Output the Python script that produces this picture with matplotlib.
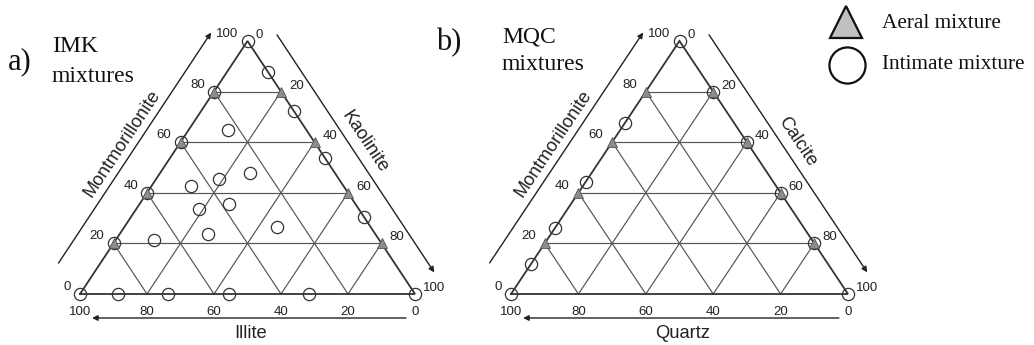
import numpy as np
import matplotlib
matplotlib.use("Agg")
import matplotlib.pyplot as plt

# ---------------- data (percent) ----------------
grid_ticks = [0, 20, 40, 60, 80, 100]

# Panel a: IMK mixtures  (M = Montmorillonite, K = Kaolinite, Illite = rest)
imk_aeral_M = [80, 60, 40, 20, 80, 60, 40, 20]
imk_aeral_K = [0, 0, 0, 0, 20, 40, 60, 80]
imk_int_M = [100, 0, 0,
             80, 60, 40, 20,
             87.9, 72.5, 53.6, 30.6,
             0, 0, 0, 0,
             64.8, 47.9, 45.3, 42.8, 35.6, 33.6, 23.6, 21.3, 26.6]
imk_int_K = [0, 0, 100,
             0, 0, 0, 0,
             12.1, 27.5, 46.4, 69.4,
             11.3, 26.3, 44.5, 68.5,
             11.9, 26.8, 18.8, 11.7, 26.7, 18.8, 26.5, 11.5, 45.4]

# Panel b: MQC mixtures  (M = Montmorillonite, C = Calcite, Quartz = rest)
mqc_aeral_M = [80, 60, 40, 20, 80, 60, 40, 20]
mqc_aeral_C = [0, 0, 0, 0, 20, 40, 60, 80]
mqc_int_M = [100, 0, 0, 67.7, 44.4, 26.2, 11.7, 80, 60, 40, 20]
mqc_int_C = [0, 0, 100, 0, 0, 0, 0, 20, 40, 60, 80]

legend_labels = ["Aeral mixture", "Intimate mixture"]

# ---------------- figure ----------------
W, H = 1034, 345
fig = plt.figure(figsize=(W / 100, H / 100), dpi=100)
ax = fig.add_axes([0, 0, 1, 1])
ax.set_xlim(0, W)
ax.set_ylim(H, 0)
ax.axis("off")

SANS = ["Liberation Sans", "DejaVu Sans"]
SERIF = ["Liberation Serif", "DejaVu Serif"]
TRI_FACE = "#8c8c8c"
EDGE = "#333333"
GRID = "#555555"


def panel(x0, x1, yb, yt, left_name, right_name, bottom_name,
          aer_M, aer_R, int_M, int_R):
    xa = (x0 + x1) / 2

    def tern(M, R):
        M = np.asarray(M, float)
        R = np.asarray(R, float)
        return x0 + (x1 - x0) * (R + M / 2) / 100, yb + (yt - yb) * M / 100

    BL = np.array([x0, yb]); BR = np.array([x1, yb]); A = np.array([xa, yt])

    # grid
    for v in grid_ticks[1:-1]:
        for (m1, r1, m2, r2) in [(v, 0, v, 100 - v), (0, v, 100 - v, v), (0, 100 - v, 100 - v, 0)]:
            xs, ys = tern([m1, m2], [r1, r2])
            ax.plot(xs, ys, color=GRID, lw=0.85, zorder=1)
    # outline
    ax.plot([BL[0], BR[0], A[0], BL[0]], [BL[1], BR[1], A[1], BL[1]],
            color=EDGE, lw=1.3, zorder=2, solid_joinstyle="miter")

    # tick labels
    for v in grid_ticks:
        px, py = tern(v, 0)
        ax.text(px - 9, py - 7, str(v), ha="right", va="center", fontsize=9.5,
                family=SANS, color="#222")
        px, py = tern(100 - v, v)
        ax.text(px + 8, py - 6, str(v), ha="left", va="center", fontsize=9.5,
                family=SANS, color="#222")
        px, py = tern(0, 100 - v)
        ax.text(px, py + 18, str(v), ha="center", va="center", fontsize=9.5,
                family=SANS, color="#222")

    # arrows + axis names
    def side(P, Q, t0, t1, d, dl, name):
        e = Q - P
        L = np.hypot(*e)
        n = np.array([e[1], -e[0]]) / L
        s = P + t0 * e + d * n
        f = P + t1 * e + d * n
        ax.annotate("", xy=f, xytext=s,
                    arrowprops=dict(arrowstyle="-|>", lw=1.0, color="#222",
                                    mutation_scale=8, shrinkA=0, shrinkB=0))
        c = P + 0.49 * e + dl * n
        ang = np.degrees(np.arctan2(-e[1], e[0]))
        if ang > 90:
            ang -= 180
        if ang < -90:
            ang += 180
        ax.text(c[0], c[1], name, rotation=ang, rotation_mode="anchor",
                ha="center", va="center", fontsize=13.2, family=SANS, color="#222")

    side(BL, A, 0.046, 0.957, 35, 48, left_name)
    side(A, BR, 0.037, 0.976, 28, 42, right_name)
    side(BR, BL, 0.027, 0.964, 24, 39, bottom_name)

    # markers
    xs, ys = tern(int_M, int_R)
    ax.plot(xs, ys, "o", ms=8.8, mfc="none", mec=EDGE, mew=0.9, ls="none", zorder=4)
    xs, ys = tern(aer_M, aer_R)
    ax.plot(xs, ys, "^", ms=7.5, mfc=TRI_FACE, mec="#555", mew=0.6, ls="none", zorder=5)


panel(80, 415, 294, 41, "Montmorillonite", "Kaolinite", "Illite",
      imk_aeral_M, imk_aeral_K, imk_int_M, imk_int_K)
panel(511, 848, 294, 41, "Montmorillonite", "Calcite", "Quartz",
      mqc_aeral_M, mqc_aeral_C, mqc_int_M, mqc_int_C)

# panel titles
ax.text(8, 69, "a)", fontsize=22, family=SERIF, ha="left", va="baseline", color="#111")
ax.text(52, 52, "IMK", fontsize=17, family=SERIF, ha="left", va="baseline", color="#111")
ax.text(52, 82, "mixtures", fontsize=17, family=SERIF, ha="left", va="baseline", color="#111")
ax.text(436, 50, "b)", fontsize=22, family=SERIF, ha="left", va="baseline", color="#111")
ax.text(502, 42, "MQC", fontsize=17, family=SERIF, ha="left", va="baseline", color="#111")
ax.text(502, 70, "mixtures", fontsize=17, family=SERIF, ha="left", va="baseline", color="#111")

# legend
ax.plot([846], [22], "^", ms=23, mfc="#c0c0c0", mec="#111", mew=1.6, clip_on=False)
ax.plot([847], [65], "o", ms=26, mfc="white", mec="#111", mew=1.6, clip_on=False)
ax.text(882, 28, legend_labels[0], fontsize=15.3, family=SERIF, ha="left", va="baseline", color="#111")
ax.text(882, 69, legend_labels[1], fontsize=15.3, family=SERIF, ha="left", va="baseline", color="#111")

fig.savefig("out.png", dpi=100)
